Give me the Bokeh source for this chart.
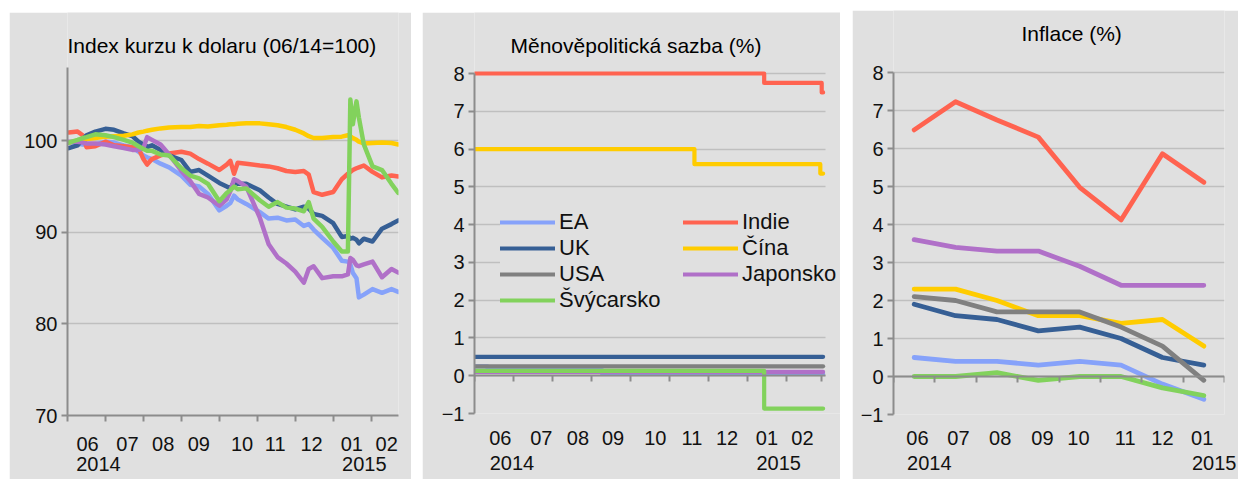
import pandas as pd
from bokeh.plotting import figure
from bokeh.models import (FixedTicker, LinearAxis, Legend, LegendItem, Range1d,
                          Grid, Label, Spacer)
from bokeh.layouts import row, column
from bokeh.embed import file_html
from bokeh.resources import INLINE

# ------------------------------------------------------------------ data
names = ["EA", "Indie", "UK", "Čína", "USA", "Japonsko", "Švýcarsko"]
colors = {"EA": "#86A2FA", "Indie": "#FF6350", "UK": "#365F95", "Čína": "#FFCC00",
          "USA": "#808080", "Japonsko": "#B070C8", "Švýcarsko": "#82D25C"}

month_labels = ["06", "07", "08", "09", "10", "11", "12", "01", "02"]
year_labels = ["2014", "2015"]

# Panel 1: exchange-rate index vs USD (06/14 = 100)
fx_dates = ["2014-06-02", "2014-06-09", "2014-06-13", "2014-06-16", "2014-06-23",
            "2014-07-01", "2014-07-08", "2014-07-16", "2014-07-23", "2014-07-28",
            "2014-08-01", "2014-08-04", "2014-08-08", "2014-08-15", "2014-08-22",
            "2014-09-01", "2014-09-08", "2014-09-15", "2014-09-22",
            "2014-10-01", "2014-10-07", "2014-10-10", "2014-10-13", "2014-10-16", "2014-10-23",
            "2014-11-03", "2014-11-10", "2014-11-17", "2014-11-24",
            "2014-12-01", "2014-12-08", "2014-12-12", "2014-12-16", "2014-12-23",
            "2015-01-01", "2015-01-08", "2015-01-13", "2015-01-15", "2015-01-17", "2015-01-20",
            "2015-01-22", "2015-01-26",
            "2015-02-02", "2015-02-09", "2015-02-16", "2015-02-21"]
fx_EA = [99.8, 99.7, 99.6, 99.5, 99.6, 99.9, 99.8, 99.5, 99.3, 98.8,
         98.4, 98.2, 98.0, 97.5, 97.1, 96.2, 95.2, 95.0, 94.2,
         92.4, 92.9, 93.2, 94.0, 93.6, 93.1, 92.2, 91.5, 91.6, 91.3,
         91.4, 90.7, 90.9, 90.3, 89.4, 88.3, 86.9, 86.8, 86.5, 85.6, 85.0, 82.9, 83.2,
         83.8, 83.4, 83.8, 83.5]
fx_Indie = [100.9, 101.0, 100.6, 99.3, 99.4, 99.9, 99.5, 99.4, 99.3, 99.2,
            98.0, 97.4, 98.0, 98.4, 98.6, 98.8, 98.6, 98.0, 97.5,
            96.8, 97.4, 97.8, 96.4, 97.6, 97.5, 97.3, 97.2, 97.0, 96.7,
            96.6, 96.7, 96.3, 94.4, 94.1, 94.4, 95.8, 96.4, 96.6, 96.8, 97.0, 97.1, 97.3,
            96.6, 96.0, 96.2, 96.1]
fx_UK = [99.2, 99.5, 100.2, 100.6, 101.0, 101.3, 101.2, 100.8, 100.5, 99.9,
         99.6, 99.3, 99.5, 99.0, 98.4, 97.9, 96.6, 96.8, 96.2,
         95.4, 95.0, 94.8, 95.5, 95.3, 95.3, 94.6, 93.8, 93.1, 92.8,
         92.5, 92.8, 92.6, 92.0, 91.8, 91.0, 89.5, 89.6, 89.3, 89.4, 89.2, 88.8, 89.3,
         89.0, 90.4, 90.9, 91.3]
fx_Cina = [99.8, 100.0, 100.1, 100.2, 100.3, 100.45, 100.5, 100.55, 100.7, 100.9,
           101.0, 101.1, 101.2, 101.35, 101.45, 101.5, 101.5, 101.6, 101.55,
           101.7, 101.75, 101.8, 101.8, 101.85, 101.9, 101.9, 101.8, 101.7, 101.5,
           101.2, 100.8, 100.5, 100.3, 100.3, 100.4, 100.45, 100.6, 100.5, 100.3, 100.1, 99.9, 99.7,
           99.75, 99.8, 99.75, 99.6]
fx_Japonsko = [99.9, 99.9, 99.8, 99.7, 99.7, 99.6, 99.4, 99.2, 99.0, 99.0,
               99.2, 100.4, 100.1, 99.6, 98.5, 96.7, 95.6, 94.2, 93.8,
               92.9, 93.6, 94.5, 95.8, 95.6, 95.0, 91.6, 88.7, 87.3, 86.6,
               85.7, 84.5, 86.0, 86.3, 85.0, 85.2, 85.2, 85.4, 87.2, 87.0, 86.4, 86.3, 86.5,
               86.8, 85.1, 86.0, 85.6]
fx_Svycarsko = [99.8, 100.1, 100.3, 100.4, 100.7, 100.6, 100.4, 100.1, 99.8, 99.4,
                99.1, 98.9, 98.9, 98.5, 98.4, 97.0, 96.2, 95.9, 95.3,
                93.4, 94.3, 94.6, 95.0, 94.7, 94.8, 93.5, 92.8, 93.3, 92.7,
                92.6, 92.3, 93.3, 91.5, 90.6, 89.0, 87.9, 87.9, 104.5, 101.8, 104.3, 102.5, 99.6,
                97.2, 96.8, 95.3, 94.3]

# Panel 2: policy rates (change dates and levels)
rate_EA_dates = ["2014-06-01", "2014-06-11", "2014-09-09", "2015-02-27"]
rate_EA = [0.25, 0.15, 0.05, 0.05]
rate_Indie_dates = ["2014-06-01", "2015-01-14", "2015-02-26", "2015-02-27"]
rate_Indie = [8.0, 7.75, 7.5, 7.5]
rate_UK_dates = ["2014-06-01", "2015-02-27"]
rate_UK = [0.5, 0.5]
rate_Cina_dates = ["2014-06-01", "2014-11-20", "2015-02-25", "2015-02-27"]
rate_Cina = [6.0, 5.6, 5.35, 5.35]
rate_USA_dates = ["2014-06-01", "2015-02-27"]
rate_USA = [0.25, 0.25]
rate_Japonsko_dates = ["2014-06-01", "2015-02-27"]
rate_Japonsko = [0.1, 0.1]
rate_Svycarsko_dates = ["2014-06-01", "2015-01-14", "2015-02-27"]
rate_Svycarsko = [0.13, -0.87, -0.87]

# Panel 3: inflation (%), monthly 06/2014 - 01/2015
infl_months = ["06", "07", "08", "09", "10", "11", "12", "01"]
infl_EA = [0.5, 0.4, 0.4, 0.3, 0.4, 0.3, -0.2, -0.6]
infl_Indie = [6.49, 7.23, 6.75, 6.3, 4.98, 4.12, 5.86, 5.11]
infl_UK = [1.9, 1.6, 1.5, 1.2, 1.3, 1.0, 0.5, 0.3]
infl_Cina = [2.3, 2.3, 2.0, 1.6, 1.6, 1.4, 1.5, 0.8]
infl_USA = [2.1, 2.0, 1.7, 1.7, 1.7, 1.3, 0.8, -0.1]
infl_Japonsko = [3.6, 3.4, 3.3, 3.3, 2.9, 2.4, 2.4, 2.4]
infl_Svycarsko = [0.0, 0.0, 0.1, -0.1, 0.0, 0.0, -0.3, -0.5]

# ------------------------------------------------------------------ style
FONT = "Liberation Sans"
BG = "#E0E0E0"
GRID = "#BFBFBF"
AXIS = "#8C8C8C"
TXT = "#111111"
TICK_FS = "20px"
TITLE_FS = "21px"
HAS_CROSS = "cross_bounds" in Grid.properties()


def mpos(d):
    ts = pd.Timestamp(d)
    return (ts.year - 2014) * 12 + ts.month - 6 + (ts.day - 1) / ts.days_in_month


class Panel:
    """Figure whose frame spans from the figure top down to the x axis.
    All pixel arguments are relative to the figure's top-left corner."""

    def __init__(self, width, height, left, right_pad, bottom, x_axis_end, x_px,
                 y0, y1, y_top_px, y_bot_px):
        self.xppu = x_px / x_axis_end
        self.yppu = (y_bot_px - y_top_px) / (y1 - y0)
        self.y_bot_px = y_bot_px
        self.y0, self.y1 = y0, y1
        self.x_axis_end = x_axis_end
        y_end = y0 + y_bot_px / self.yppu
        x_end = (width - left - right_pad) / self.xppu
        self.p = figure(width=width, height=height,
                        x_range=Range1d(0, x_end), y_range=Range1d(y0, y_end),
                        output_backend="svg", toolbar_location=None,
                        x_axis_type=None, y_axis_type=None,
                        min_border_left=left, min_border_right=right_pad,
                        min_border_top=0, min_border_bottom=bottom)
        p = self.p
        p.background_fill_color = BG
        p.border_fill_color = BG
        p.outline_line_color = None

    def yval(self, px):
        return self.y0 + (self.y_bot_px - px) / self.yppu

    def add_y(self, ticks):
        ax = LinearAxis(ticker=FixedTicker(ticks=ticks, minor_ticks=[]),
                        bounds=(self.y0, self.y1),
                        axis_line_color=AXIS, axis_line_width=2,
                        major_tick_line_color=AXIS, major_tick_line_width=2,
                        major_tick_in=0, major_tick_out=6,
                        minor_tick_line_color=None,
                        major_label_standoff=4,
                        major_label_text_font=FONT, major_label_text_font_size=TICK_FS,
                        major_label_text_color=TXT)
        self.p.add_layout(ax, "left")
        g = Grid(dimension=1, ticker=FixedTicker(ticks=ticks),
                 grid_line_color=GRID, grid_line_width=1.5)
        if HAS_CROSS:
            g.cross_bounds = (0, self.x_axis_end)
        self.p.add_layout(g)

    def add_x(self, boundaries, fixed, label_pos, labels, s_month, year_pos, s_year):
        axA = LinearAxis(ticker=FixedTicker(ticks=[], minor_ticks=boundaries),
                         bounds=(0, self.x_axis_end),
                         axis_line_color=AXIS, axis_line_width=2,
                         major_tick_line_color=None, major_tick_out=6, major_tick_in=0,
                         minor_tick_line_color=AXIS, minor_tick_line_width=2,
                         minor_tick_in=0, minor_tick_out=6,
                         major_label_standoff=0, major_label_text_font_size="0px")
        if fixed is not None:
            axA.fixed_location = fixed
        self.p.add_layout(axA, "below")
        self.p.add_layout(label_axis(label_pos, labels, s_month), "below")
        self.p.add_layout(label_axis(year_pos, year_labels, s_year), "below")

    def add_title(self, text, left_px, center_px):
        self.p.add_layout(Label(x=left_px / self.xppu, y=self.yval(center_px),
                                text=text, text_align="left", text_baseline="middle",
                                text_font=FONT, text_font_size=TITLE_FS,
                                text_color="#000000"))


def label_axis(ticks, labels, standoff):
    return LinearAxis(ticker=FixedTicker(ticks=ticks, minor_ticks=[]),
                      major_label_overrides=dict(zip(ticks, labels)),
                      axis_line_color=None, major_tick_line_color=None,
                      minor_tick_line_color=None, major_tick_in=0, major_tick_out=0,
                      major_label_standoff=standoff,
                      major_label_text_font=FONT, major_label_text_font_size=TICK_FS,
                      major_label_text_color=TXT)


# ------------------------------------------------------------------ panel 1
# figure at page (9, 12), 402x467 ; plot area page x 67..398, y 67..415
P1 = Panel(402, 467, 58, 13, 64, 8.72, 331, 70, 108, 67 - 12, 415 - 12)
P1.add_y([70, 80, 90, 100])
P1.add_x(list(range(0, 9)), None,
         [0.53, 1.58, 2.52, 3.46, 4.6, 5.47, 6.43, 7.49, 8.41], month_labels, 15,
         [0.815, 7.82], 3)
P1.add_title("Index kurzu k dolaru (06/14=100)", 0, 45 - 12)
t_fx = [mpos(d) for d in fx_dates]
fx = {"EA": fx_EA, "Indie": fx_Indie, "UK": fx_UK, "Čína": fx_Cina,
      "Japonsko": fx_Japonsko, "Švýcarsko": fx_Svycarsko}
for n in names:
    if n in fx:
        P1.p.line(t_fx, fx[n], line_color=colors[n], line_width=4.5,
                  line_join="round", line_cap="round")

# ------------------------------------------------------------------ panel 2
# figure at page (422, 12), 418x467 ; plot area page x 474..825, y 73..413
P2 = Panel(418, 467, 52, 0, 66, 8.99, 351, -1, 8, 73 - 12, 413 - 12)
P2.add_y(list(range(-1, 9)))
P2.add_x(list(range(0, 9)) + [8.9], 0,
         [0.66, 1.71, 2.65, 3.55, 4.63, 5.57, 6.47, 7.49, 8.4], month_labels, 17,
         [0.96, 7.79], 8)
P2.add_title("Měnověpolitická sazba (%)", 36, 45 - 12)
rates = {"EA": (rate_EA_dates, rate_EA), "Indie": (rate_Indie_dates, rate_Indie),
         "UK": (rate_UK_dates, rate_UK), "Čína": (rate_Cina_dates, rate_Cina),
         "USA": (rate_USA_dates, rate_USA), "Japonsko": (rate_Japonsko_dates, rate_Japonsko),
         "Švýcarsko": (rate_Svycarsko_dates, rate_Svycarsko)}
rend2 = {}
for n in names:
    ds, vs = rates[n]
    rend2[n] = P2.p.step([mpos(d) for d in ds], vs, mode="after", line_color=colors[n],
                         line_width=4.2, line_join="round", line_cap="round")
legend_order = ["EA", "UK", "USA", "Švýcarsko", "Indie", "Čína", "Japonsko"]
legend = Legend(items=[LegendItem(label=n, renderers=[rend2[n]]) for n in legend_order],
                ncols=2, orientation="vertical", location=(26, 100),
                label_text_font=FONT, label_text_font_size="22px", label_text_color=TXT,
                label_text_line_height=1.0,
                glyph_width=55, glyph_height=20, label_height=20, label_width=124,
                label_standoff=4, spacing=-3, padding=10, margin=0,
                background_fill_color=BG, background_fill_alpha=1.0,
                border_line_color=None)
P2.p.add_layout(legend)

# ------------------------------------------------------------------ panel 3
# figure at page (852, 10), 386x469 ; plot area page x 893..1224, y 72..414
P3 = Panel(386, 469, 41, 14, 65, 8, 331, -1, 8, 72 - 10, 414 - 10)
P3.add_y(list(range(-1, 9)))
P3.add_x(list(range(0, 9)), 0,
         [0.58, 1.57, 2.58, 3.6, 4.47, 5.6, 6.5, 7.46], infl_months, 16,
         [0.865, 7.75], 8)
P3.add_title("Inflace (%)", 128, 33 - 10)
infl = {"EA": infl_EA, "Indie": infl_Indie, "UK": infl_UK, "Čína": infl_Cina,
        "USA": infl_USA, "Japonsko": infl_Japonsko, "Švýcarsko": infl_Svycarsko}
xs3 = [i + 0.5 for i in range(len(infl_months))]
for n in names:
    P3.p.line(xs3, infl[n], line_color=colors[n], line_width=4.8,
              line_join="round", line_cap="round")

layout = row(Spacer(width=9),
             column(Spacer(height=12), P1.p),
             Spacer(width=11),
             column(Spacer(height=12), P2.p),
             Spacer(width=12),
             column(Spacer(height=10), P3.p))

open("out.html", "w").write(file_html(layout, INLINE))
